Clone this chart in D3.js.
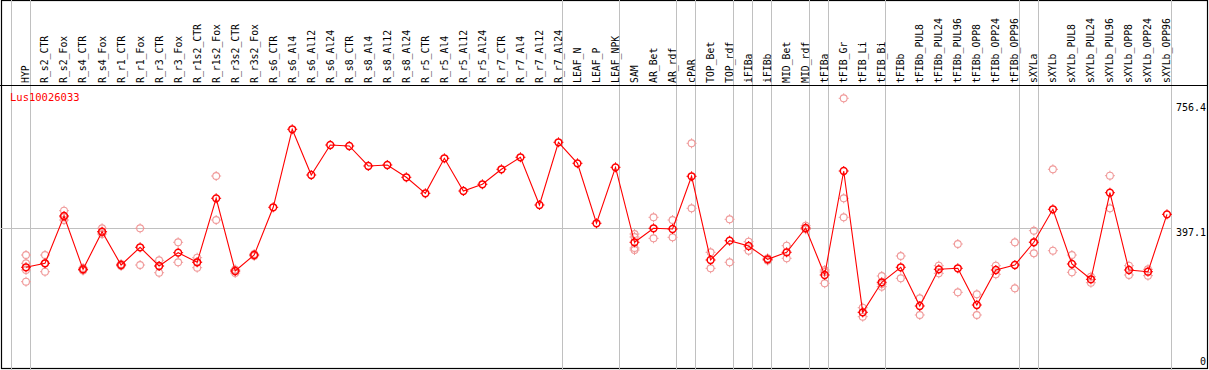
<!DOCTYPE html>
<html><head><meta charset="utf-8">
<script src="https://cdn.jsdelivr.net/npm/d3@7"></script>
<style>body{margin:0;background:#fff}svg{display:block}</style>
</head><body><svg id="c" width="1209" height="370"></svg>
<script>
const categories = ["HYP","R_s2_CTR","R_s2_Fox","R_s4_CTR","R_s4_Fox","R_r1_CTR","R_r1_Fox","R_r3_CTR","R_r3_Fox","R_r1s2_CTR","R_r1s2_Fox","R_r3s2_CTR","R_r3s2_Fox","R_s6_CTR","R_s6_Al4","R_s6_Al12","R_s6_Al24","R_s8_CTR","R_s8_Al4","R_s8_Al12","R_s8_Al24","R_r5_CTR","R_r5_Al4","R_r5_Al12","R_r5_Al24","R_r7_CTR","R_r7_Al4","R_r7_Al12","R_r7_Al24","LEAF_N","LEAF_P","LEAF_NPK","SAM","AR_Bet","AR_rdf","cPAR","TOP_Bet","TOP_rdf","iFIBa","iFIBb","MID_Bet","MID_rdf","tFIBa","tFIB_Gr","tFIB_Li","tFIB_Bi","tFIBb","tFIBb_PUL8","tFIBb_PUL24","tFIBb_PUL96","tFIBb_OPP8","tFIBb_OPP24","tFIBb_OPP96","sXYLa","sXYLb","sXYLb_PUL8","sXYLb_PUL24","sXYLb_PUL96","sXYLb_OPP8","sXYLb_OPP24","sXYLb_OPP96"];

const means = [285.0,296.5,432.5,279.2,387.3,291.6,342.5,288.7,327.0,299.4,483.3,274.4,320.3,457.5,681.7,550.3,636.5,633.7,576.2,579.1,543.7,497.7,598.3,504.3,523.6,566.7,601.2,464.1,644.3,583.9,411.5,572.4,356.9,397.1,395.1,546.6,306.0,361.5,346.2,308.0,328.1,398.0,262.9,561.8,155.6,241.9,285.0,173.8,279.2,282.1,176.6,277.2,291.6,356.9,451.7,294.5,250.5,499.4,277.2,272.3,437.3];

const replicates = [
  [320.3,296.5,277.2,243.6],
  [320.3,296.5,272.3],
  [447.7,429.6,420.9],
  [283.0,278.7,275.8],
  [397.1,386.5,380.7],
  [294.5,291.6,288.7],
  [397.1,291.6],
  [305.1,288.7,269.4],
  [356.9,299.4],
  [312.6,300.2,283.8],
  [547.4,420.9],
  [278.7,274.4,268.6],
  [323.2,317.4],
  [],[],[],[],[],[],[],[],[],[],[],[],[],[],[],[],[],[],[],
  [380.7,372.1,340.5,334.7],
  [428.7,368.3],
  [420.9,371.2],
  [641.4,454.6],
  [328.1,282.1],
  [423.0,299.4],
  [358.6,332.7],
  [310.9,304.5],
  [347.1,310.9],
  [404.6,395.1,394.2],
  [277.2,271.5,239.0],
  [770.8,483.3,428.7],
  [168.9,155.6,143.0],
  [260.0,237.0,229.2],
  [317.5,253.4],
  [195.9,147.9],
  [289.6,267.7],
  [352.0,213.1],
  [207.4,147.9],
  [289.6,264.9],
  [356.9,224.6],
  [390.2,357.7,325.2],
  [566.7,332.7],
  [320.3,270.6],
  [258.0,240.7],
  [548.3,454.6],
  [289.6,262.9],
  [279.2,260.9],
  []
];

const groupEnds = ["HYP","R_r7_Al24","LEAF_NPK","AR_rdf","cPAR","TOP_rdf","iFIBa","iFIBb","MID_rdf","tFIBa","tFIB_Bi","tFIBb_OPP96","sXYLa","sXYLb_OPP96"];
const yTicks = [0, 397.1, 756.4];
const gridValues = [397.1];
const geneLabel = "Lus10026033";

const W = 1209, H = 370;
const svg = d3.select("#c");
const font = "'DejaVu Sans Mono', monospace";
const headerY = 85, plotLeft = 10.7, plotRight = 1170.7;

const x = d3.scaleBand().domain(categories).range([plotLeft, plotRight]).paddingInner(0).paddingOuter(0);
const px = c => x(c) + 15.3;
const y = d3.scaleLinear().domain([0, 756.4]).range([366.45, 103.3]);

// frame
svg.append("rect").attr("x",1.5).attr("y",0.5).attr("width",1206).attr("height",368)
  .attr("fill","none").attr("stroke","#000").attr("stroke-width",1.2);

// vertical separators
const sepX = [plotLeft].concat(groupEnds.map(c => x(c) + x.bandwidth()));
svg.append("g").selectAll("line").data(sepX).join("line")
  .attr("x1", d => Math.round(d)+0.5).attr("x2", d => Math.round(d)+0.5)
  .attr("y1", 0).attr("y2", H).attr("stroke","#c0c0c0").attr("stroke-width",1);

// horizontal grid
svg.append("g").selectAll("line").data(gridValues).join("line")
  .attr("x1", 1).attr("x2", Math.round(plotRight)+0.5)
  .attr("y1", d => Math.round(y(d))+0.5).attr("y2", d => Math.round(y(d))+0.5)
  .attr("stroke","#c0c0c0").attr("stroke-width",1);

// header line
svg.append("line").attr("x1",0).attr("x2",1208).attr("y1",headerY+0.5).attr("y2",headerY+0.5)
  .attr("stroke","#000").attr("stroke-width",1.2);

// header labels
svg.append("g").selectAll("text").data(categories).join("text")
  .attr("transform", d => `translate(${px(d)},${headerY-2}) rotate(-90)`)
  .attr("dy","0.35em").attr("text-anchor","start")
  .attr("font-family", font).attr("font-size", 9.8).attr("fill","#000")
  .text(d => d);

// y tick labels
svg.append("g").selectAll("text").data(yTicks).join("text")
  .attr("x", 1206).attr("y", d => d === 0 ? 365 : y(d))
  .attr("dominant-baseline", d => d === 0 ? "auto" : "hanging")
  .attr("text-anchor","end")
  .attr("font-family", font).attr("font-size", 10).attr("fill","#000")
  .text(d => d === 0 ? "0" : d.toFixed(1));

// gene label
svg.append("text").attr("x",10).attr("y",100.5)
  .attr("font-family", font).attr("font-size", 10.5).attr("fill","#ff0000")
  .text(geneLabel);

function marker(g, cx, cy, color, sw) {
  g.append("circle").attr("cx",cx).attr("cy",cy).attr("r",3.4)
    .attr("fill","none").attr("stroke",color).attr("stroke-width",sw);
  const p = d3.path();
  p.moveTo(cx, cy-3.4); p.lineTo(cx, cy-5);
  p.moveTo(cx, cy+3.4); p.lineTo(cx, cy+5);
  p.moveTo(cx-3.4, cy); p.lineTo(cx-5, cy);
  p.moveTo(cx+3.4, cy); p.lineTo(cx+5, cy);
  g.append("path").attr("d", p.toString()).attr("stroke",color).attr("stroke-width",1);
}

// replicates
const repG = svg.append("g");
categories.forEach((c,i) => {
  replicates[i].forEach(v => marker(repG, px(c), y(v), "#f09a9a", 1.1));
});

// mean line
const line = d3.line().x((d,i) => px(categories[i])).y(d => y(d));
svg.append("path").datum(means).attr("d", line)
  .attr("fill","none").attr("stroke","#ff0000").attr("stroke-width",1.1);

// mean markers
const meanG = svg.append("g");
categories.forEach((c,i) => marker(meanG, px(c), y(means[i]), "#ff0000", 1.5));
</script>
</body></html>
